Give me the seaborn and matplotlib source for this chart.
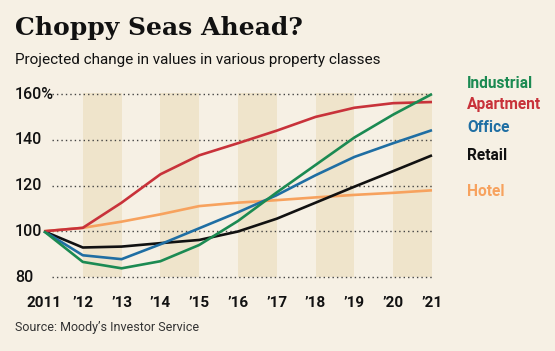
import matplotlib
matplotlib.use("Agg")
import matplotlib.pyplot as plt
import matplotlib.transforms as mtransforms
import seaborn as sns
import pandas as pd

years = [2011, 2012, 2013, 2014, 2015, 2016, 2017, 2018, 2019, 2020, 2021]
year_labels = ["2011", "\u201912", "\u201913", "\u201914", "\u201915", "\u201916",
               "\u201917", "\u201918", "\u201919", "\u201920", "\u201921"]
industrial = [100, 86.6, 83.8, 86.9, 94.0, 104.5, 117.0, 129.0, 141.0, 151.0, 160.0]
apartment = [100, 101.5, 112.5, 124.9, 133.2, 138.5, 144.0, 150.0, 154.0, 156.0, 156.5]
office = [100, 89.5, 87.8, 94.3, 101.3, 108.3, 115.8, 124.5, 132.5, 138.5, 144.2]
retail = [100, 92.9, 93.3, 94.8, 96.2, 99.9, 105.5, 112.5, 119.5, 126.3, 133.2]
hotel = [100, 101.5, 104.2, 107.4, 111.0, 112.5, 113.6, 114.8, 115.9, 116.8, 117.9]
series_names = ["Industrial", "Apartment", "Office", "Retail", "Hotel"]
yticks = [80, 100, 120, 140, 160]
ytick_labels = ["80", "100", "120", "140", "160%"]

title = "Choppy Seas Ahead?"
subtitle = "Projected change in values in various property classes"
source = "Source: Moody\u2019s Investor Service"

colors = {"Industrial": "#1b8a52", "Apartment": "#c8323a", "Office": "#1f6ea3",
          "Retail": "#111111", "Hotel": "#f7a25e"}
label_y = {"Industrial": 164.4, "Apartment": 155.6, "Office": 145.4,
           "Retail": 133.3, "Hotel": 117.2}

sns.set_theme(style="white")
plt.rcParams["font.family"] = ["Roboto", "DejaVu Sans"]

bg = "#f6f0e4"
band = "#efe4cb"

df = pd.DataFrame({
    "year": years * 5,
    "value": industrial + apartment + office + retail + hotel,
    "series": sum([[n] * len(years) for n in series_names], []),
})

fig = plt.figure(figsize=(5.55, 3.51), dpi=100, facecolor=bg)
ax = fig.add_axes([44 / 555, 0.2108, 388 / 555, 0.5409])
ax.set_facecolor(bg)
ax.set_xlim(2011, 2021)
ax.set_ylim(80, 163)

for start in [2012, 2014, 2016, 2018, 2020]:
    ax.fill_between([start, start + 1], 80, 160.5, color=band, lw=0, zorder=0)

for v in yticks:
    ax.plot([2011.2, 2021], [v, v], color="#444444", lw=1.0, ls=(0, (1, 2.2)),
            zorder=1, clip_on=False)

sns.lineplot(data=df, x="year", y="value", hue="series", palette=colors,
             hue_order=["Hotel", "Retail", "Office", "Apartment", "Industrial"],
             lw=1.9, ax=ax, legend=False, zorder=3)
for line in ax.lines[-5:]:
    line.set_clip_on(False)
    line.set_solid_capstyle("butt")

for s in ax.spines.values():
    s.set_visible(False)
ax.set_xlabel("")
ax.set_ylabel("")
ax.set_xticks(years)
ax.set_xticklabels(year_labels, fontsize=11, fontweight="bold", color="#111111")
ax.tick_params(axis="x", length=6, width=0.8, color="#777777", pad=8, direction="out")
ax.set_yticks(yticks)
ax.set_yticklabels([])
ax.tick_params(axis="y", length=0)

trans = mtransforms.blended_transform_factory(fig.transFigure, ax.transData)
for v, lab in zip(yticks, ytick_labels):
    ax.text(15 / 555, v, lab, transform=trans, ha="left", va="center",
            fontsize=11.5, color="#111111", fontweight="medium")

for n in series_names:
    ax.text(2021.9, label_y[n], n, ha="left", va="center", fontsize=11.2,
            fontweight="bold", color=colors[n], clip_on=False)

fig.text(15 / 555, 1 - 28 / 351, title, family=["DejaVu Serif"], fontweight="bold",
         fontsize=18, ha="left", va="center", color="#111111")
fig.text(15 / 555, 1 - 60 / 351, subtitle, fontsize=11, ha="left", va="center",
         color="#111111")
fig.text(15 / 555, 1 - 327 / 351, source, fontsize=9, ha="left", va="center",
         color="#333333")

fig.savefig("out.png", dpi=100, facecolor=bg)
